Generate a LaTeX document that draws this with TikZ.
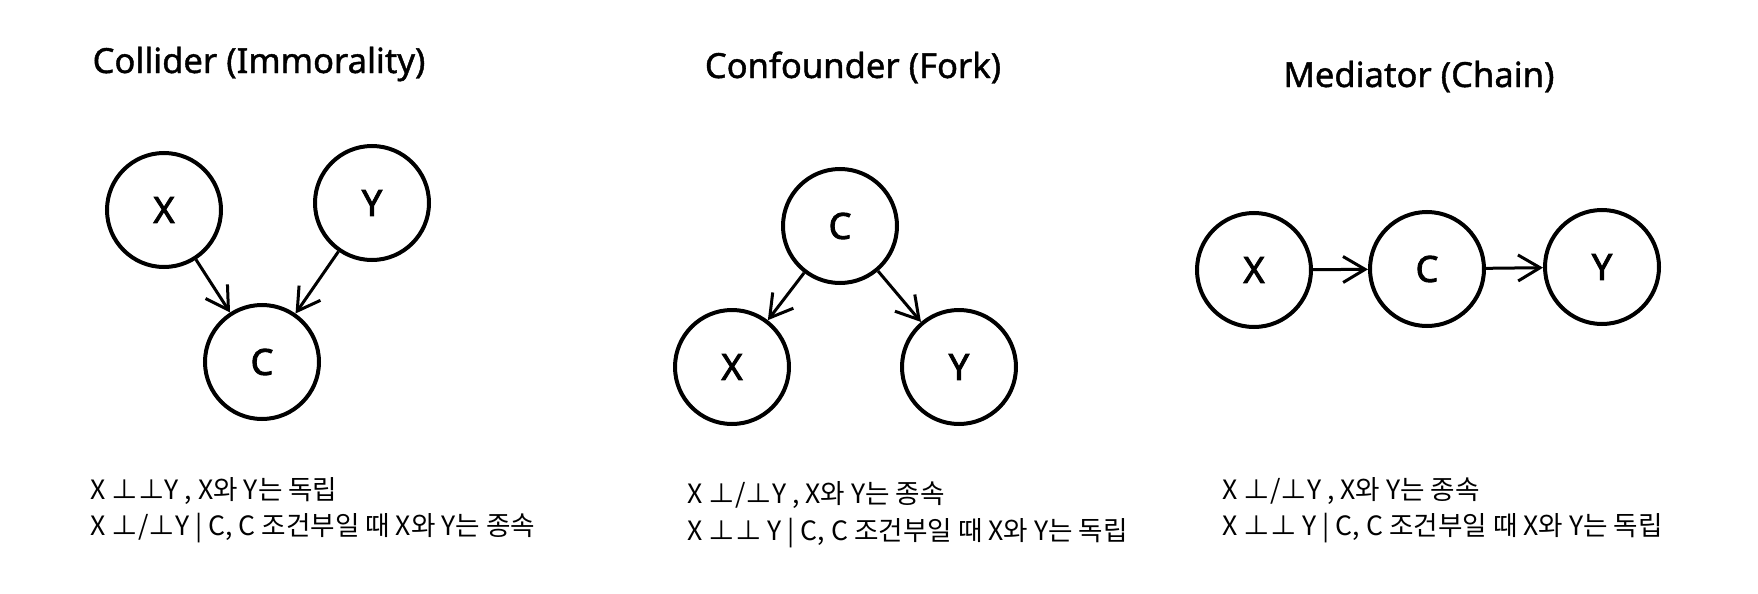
\documentclass[tikz,border=0pt]{standalone}
\usepackage{fontspec}
\setmainfont{Noto Sans}
\newfontfamily\kr{Noto Sans CJK KR}
\newfontfamily\hand[FakeBold=1.2]{Noto Sans}
\newfontfamily\handb[FakeBold=2.5]{Noto Sans}
\usetikzlibrary{arrows.meta}
\begin{document}
\begin{tikzpicture}[x=0.5pt,y=-0.5pt,
  var/.style={circle, draw, line width=2pt, minimum size=57pt, inner sep=0pt, font=\handb\fontsize{18}{18}\selectfont},
  edge/.style={line width=1.5pt, -{Straight Barb[length=11pt,width=13pt,line width=1.5pt]}},
  ttl/.style={font=\hand\fontsize{17.3}{20}\selectfont, anchor=base, inner sep=0pt},
  note/.style={font=\kr\fontsize{13.3}{16}\selectfont, anchor=base west, inner sep=0pt}]
\useasboundingbox (0,0) rectangle (1758,594);
% Collider
\node[ttl] (t1) at (259,73) {Collider (Immorality)};
\node[var] (x1) at (164,210) {X};
\node[var] (y1) at (372,203) {Y};
\node[var] (c1) at (262,362) {C};
\draw[edge] (x1) -- (c1);
\draw[edge] (y1) -- (c1);
\node[note] (a1) at (90,499) {X ⊥⊥Y , X와 Y는 독립};
\node[note] (b1) at (90,535) {X ⊥/⊥Y | C, C 조건부일 때 X와 Y는 종속};
% Confounder
\node[ttl] (t2) at (853,78) {Confounder (Fork)};
\node[var] (c2) at (840,226) {C};
\node[var] (x2) at (732,367) {X};
\node[var] (y2) at (959,367) {Y};
\draw[edge] (c2) -- (x2);
\draw[edge] (c2) -- (y2);
\node[note] (a2) at (687,503) {X ⊥/⊥Y , X와 Y는 종속};
\node[note] (b2) at (687,540) {X ⊥⊥ Y | C, C 조건부일 때 X와 Y는 독립};
% Mediator
\node[ttl] (t3) at (1419,87) {Mediator (Chain)};
\node[var] (x3) at (1254,270) {X};
\node[var] (c3) at (1427,269) {C};
\node[var] (y3) at (1602,267) {Y};
\draw[edge] (x3) -- (c3);
\draw[edge] (c3) -- (y3);
\node[note] (a3) at (1222,499) {X ⊥/⊥Y , X와 Y는 종속};
\node[note] (b3) at (1222,535) {X ⊥⊥ Y | C, C 조건부일 때 X와 Y는 독립};
\end{tikzpicture}
\end{document}
